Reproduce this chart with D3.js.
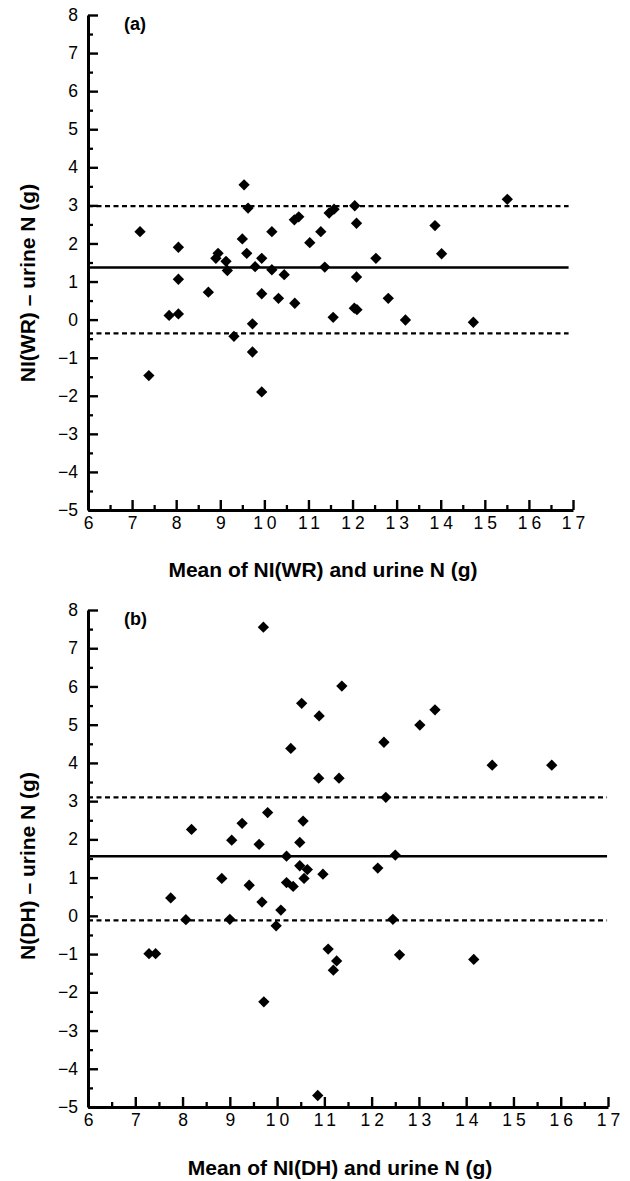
<!DOCTYPE html>
<html>
<head>
<meta charset="utf-8">
<script src="https://cdn.jsdelivr.net/npm/d3@7"></script>
<style>
  body { margin: 0; background: #fff; }
  svg text { font-family: Arial, "Liberation Sans", Helvetica, sans-serif; fill: #000; }
</style>
</head>
<body>
<script>
// Bland-Altman style plots, two panels
var xTicks = d3.range(6, 18);
var yTicks = d3.range(-5, 9);
var xMinor = d3.range(6.5, 17, 1);
var yMinor = d3.range(-4.5, 8, 1);

// (a) NI(WR) vs urine N
var aMean = [7.18, 7.38, 7.84, 8.05, 8.05, 8.05, 8.73, 8.90, 8.95, 9.13, 9.16, 9.31, 9.50, 9.54, 9.63, 9.60,
	9.73, 9.73, 9.79, 9.94, 9.94, 9.94, 10.17, 10.17, 10.32, 10.45, 10.69, 10.68, 10.78, 11.03, 11.28, 11.37,
	11.47, 11.58, 11.56, 12.05, 12.09, 12.09, 12.04, 12.10, 12.53, 12.81, 13.20, 13.87, 14.02, 14.74, 15.51];
var aDiff = [2.31, -1.47, 0.11, 0.15, 1.06, 1.90, 0.72, 1.61, 1.74, 1.53, 1.29, -0.44, 2.12, 3.54, 2.93, 1.74,
	-0.11, -0.85, 1.39, 1.61, 0.68, -1.90, 2.31, 1.31, 0.56, 1.18, 0.43, 2.62, 2.70, 2.02, 2.31, 1.38,
	2.80, 2.90, 0.06, 2.99, 2.53, 1.12, 0.30, 0.26, 1.61, 0.56, -0.01, 2.47, 1.73, -0.07, 3.16];
var aBias = 1.37;
var aLimits = [2.98, -0.36];

// (b) N(DH) vs urine N
var bMean = [7.29, 7.43, 7.75, 8.07, 8.19, 8.83, 9.00, 9.04, 9.26, 9.41, 9.62, 9.68, 9.71, 9.72, 9.80, 9.98,
	10.08, 10.20, 10.20, 10.29, 10.34, 10.48, 10.48, 10.52, 10.55, 10.57, 10.64, 10.86, 10.89, 10.88, 10.97,
	11.08, 11.19, 11.26, 11.31, 11.37, 12.13, 12.26, 12.30, 12.45, 12.50, 12.59, 13.02, 13.34, 14.16, 14.55, 15.81];
var bDiff = [-0.99, -0.99, 0.47, -0.10, 2.26, 0.98, -0.09, 1.98, 2.42, 0.80, 1.87, 0.36, 7.55, -2.25, 2.70, -0.26,
	0.15, 1.56, 0.87, 4.38, 0.77, 1.92, 1.31, 5.56, 2.48, 0.98, 1.21, -4.70, 5.23, 3.60, 1.09,
	-0.87, -1.42, -1.18, 3.60, 6.01, 1.25, 4.54, 3.10, -0.09, 1.59, -1.02, 4.99, 5.39, -1.14, 3.94, 3.94];
var bBias = 1.56;
var bLimits = [3.10, -0.12];

var svg = d3.select("body").append("svg")
	.attr("width", 630)
	.attr("height", 1181);

var diamond = d3.symbol().type(d3.symbolSquare).size(64);

function drawPanel(p) {
	var g = svg.append("g");
	var x = d3.scaleLinear().domain([6, 17]).range([p.left, p.right]);
	var y = d3.scaleLinear().domain([-5, 8]).range([p.bottom, p.top]);

	// minor ticks first
	g.append("g")
		.attr("transform", `translate(0,${p.bottom})`)
		.call(d3.axisBottom(x).tickValues(xMinor).tickSizeInner(-5).tickSizeOuter(0).tickFormat(""))
		.call(a => a.select(".domain").remove())
		.selectAll("line").attr("stroke", "#000").attr("stroke-width", 2.3);
	g.append("g")
		.attr("transform", `translate(${p.left},0)`)
		.call(d3.axisLeft(y).tickValues(yMinor).tickSizeInner(-5).tickSizeOuter(0).tickFormat(""))
		.call(a => a.select(".domain").remove())
		.selectAll("line").attr("stroke", "#000").attr("stroke-width", 2.3);

	// major
	var xa = g.append("g")
		.attr("transform", `translate(0,${p.bottom})`)
		.call(d3.axisBottom(x).tickValues(xTicks).tickSizeInner(-10).tickSizeOuter(0).tickPadding(7));
	xa.select(".domain").attr("stroke", "#000").attr("stroke-width", 3);
	xa.selectAll("line").attr("stroke", "#000").attr("stroke-width", 2.4);
	xa.selectAll("text")
		.style("font-size", "17.5px")
		.style("letter-spacing", "4px")
		.attr("dx", "2px");

	var ya = g.append("g")
		.attr("transform", `translate(${p.left},0)`)
		.call(d3.axisLeft(y).tickValues(yTicks).tickSizeInner(-10).tickSizeOuter(0).tickPadding(10));
	ya.select(".domain").attr("stroke", "#000").attr("stroke-width", 3);
	ya.selectAll("line").attr("stroke", "#000").attr("stroke-width", 2.4);
	ya.selectAll("text").style("font-size", "17.5px");

	// bias and limits of agreement
	g.append("line")
		.attr("x1", x(6)).attr("x2", x(p.lineEnd))
		.attr("y1", y(p.bias)).attr("y2", y(p.bias))
		.attr("stroke", "#000").attr("stroke-width", 2.4);
	g.selectAll(".lim")
		.data(p.limits)
		.join("line")
		.attr("class", "lim")
		.attr("x1", x(6)).attr("x2", x(p.lineEnd))
		.attr("y1", d => y(d)).attr("y2", d => y(d))
		.attr("stroke", "#000").attr("stroke-width", 2.3)
		.attr("stroke-dasharray", "5,3.5");

	// points
	g.selectAll(".pt")
		.data(d3.range(p.mean.length))
		.join("path")
		.attr("class", "pt")
		.attr("d", diamond)
		.attr("transform", i => `translate(${x(p.mean[i])},${y(p.diff[i])}) rotate(45)`)
		.attr("fill", "#000");

	// labels
	g.append("text")
		.attr("x", p.left + 36).attr("y", p.top + 15)
		.style("font-size", "18px").attr("font-weight", "bold")
		.text(p.tag);
	g.append("text")
		.attr("x", p.xTitleX).attr("y", p.xTitleY)
		.attr("text-anchor", "middle")
		.style("font-size", "21px").attr("font-weight", "bold")
		.text(p.xTitle);
	g.append("text")
		.attr("transform", `translate(35,${p.yTitleY}) rotate(-90)`)
		.attr("text-anchor", "middle")
		.style("font-size", "21px").attr("font-weight", "bold")
		.text(p.yTitle);
}

drawPanel({
	left: 88, right: 573, top: 15, bottom: 510,
	mean: aMean, diff: aDiff, bias: aBias, limits: aLimits, lineEnd: 16.9,
	tag: "(a)",
	xTitle: "Mean of NI(WR) and urine N (g)", xTitleX: 323, xTitleY: 577,
	yTitle: "NI(WR) \u2013 urine N (g)", yTitleY: 283
});
drawPanel({
	left: 88, right: 608, top: 610, bottom: 1107,
	mean: bMean, diff: bDiff, bias: bBias, limits: bLimits, lineEnd: 16.98,
	tag: "(b)",
	xTitle: "Mean of NI(DH) and urine N (g)", xTitleX: 340, xTitleY: 1175,
	yTitle: "N(DH) \u2013 urine N (g)", yTitleY: 866
});
</script>
</body>
</html>
